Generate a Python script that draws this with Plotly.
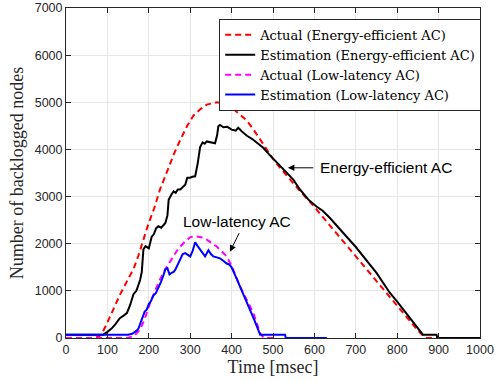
import plotly.graph_objects as go

# ---------------- data ----------------
ee_act_t = [0, 60, 80, 90, 100, 115, 131, 150, 163, 175, 187, 199, 213, 227, 245, 260, 276, 292, 308, 324,
            340, 364, 380, 396, 415, 437, 453, 469, 485, 500, 517, 537, 557, 600, 650, 700, 750, 800, 850, 868, 1000]
ee_act_n = [0, 0, 30, 150, 330, 620, 930, 1250, 1460, 1750, 2100, 2420, 2750, 3150, 3550, 3890, 4200, 4490, 4720, 4850,
            4950, 5000, 4980, 4910, 4780, 4610, 4420, 4210, 3990, 3800, 3610, 3400, 3200, 2780, 2255, 1730, 1205, 680, 160, 0, 0]

ee_est_t = [0, 50, 90, 100, 110, 120, 130, 140, 147, 155, 163, 170, 179, 183, 187, 192, 200, 207, 212, 218, 223, 230,
            240, 245, 248, 255, 260, 265, 270, 276, 282, 288, 293, 300, 305, 312, 318, 324, 330, 335, 340, 350, 360,
            365, 368, 372, 380, 390, 400, 410, 416, 425, 437, 450, 461, 477, 490, 505, 517, 530, 549, 565, 585, 605,
            620, 637, 660, 686, 700, 750, 782, 800, 830, 862, 895, 897, 1000]
ee_est_n = [70, 70, 70, 130, 200, 300, 420, 480, 530, 700, 930, 1000, 1230, 1400, 1880, 1950, 1900, 2150, 2200, 2330,
            2370, 2340, 2440, 2600, 2930, 3050, 3110, 3080, 3150, 3150, 3200, 3250, 3400, 3400, 3420, 3430, 3700, 4050,
            4150, 4120, 4170, 4150, 4130, 4300, 4490, 4520, 4470, 4480, 4420, 4400, 4460, 4380, 4290, 4220, 4140, 4030,
            3900, 3760, 3640, 3520, 3360, 3150, 2940, 2790, 2700, 2550, 2330, 2085, 1930, 1380, 960, 770, 440, 70, 70, 0, 0]

ll_act_t = [0, 100, 150, 165, 179, 190, 203, 215, 227, 240, 250, 260, 270, 284, 300, 316, 330, 340, 352, 364, 376,
            388, 400, 420, 440, 453, 469, 478, 500]
ll_act_n = [0, 0, 0, 50, 180, 400, 740, 1000, 1240, 1460, 1600, 1730, 1880, 2015, 2140, 2155, 2130, 2085, 2020, 1940,
            1840, 1730, 1530, 1100, 750, 520, 100, 0, 0]

ll_est_t = [0, 100, 150, 160, 170, 175, 179, 185, 190, 195, 200, 205, 211, 217, 223, 230, 235, 240, 245, 250, 255,
            260, 264, 270, 276, 282, 288, 294, 300, 306, 312, 318, 324, 330, 336, 344, 350, 356, 362, 372, 380, 388,
            394, 400, 410, 420, 430, 445, 455, 469, 529, 531, 630]
ll_est_n = [70, 70, 70, 90, 150, 200, 300, 420, 560, 600, 720, 780, 900, 950, 1050, 1200, 1320, 1460, 1480, 1350, 1380,
            1400, 1450, 1550, 1650, 1780, 1800, 1760, 1730, 1850, 2030, 1950, 1870, 1800, 1730, 1860, 1780, 1730, 1720,
            1690, 1640, 1580, 1560, 1500, 1300, 1100, 900, 600, 380, 70, 70, 0, 0]

series_names = ["Actual (Energy-efficient AC)", "Estimation (Energy-efficient AC)",
                "Actual (Low-latency AC)", "Estimation (Low-latency AC)"]
x_ticks = [0, 100, 200, 300, 400, 500, 600, 700, 800, 900, 1000]
y_ticks = [0, 1000, 2000, 3000, 4000, 5000, 6000, 7000]

# ---------------- figure ----------------
fig = go.Figure()
fig.add_trace(go.Scatter(x=ee_act_t, y=ee_act_n, mode="lines", name=series_names[0],
                         line=dict(color="#ff0000", width=2, dash="6px,4px")))
fig.add_trace(go.Scatter(x=ee_est_t, y=ee_est_n, mode="lines", name=series_names[1],
                         line=dict(color="#000000", width=2)))
fig.add_trace(go.Scatter(x=ll_act_t, y=ll_act_n, mode="lines", name=series_names[2],
                         line=dict(color="#ff00ff", width=2, dash="6px,4px")))
fig.add_trace(go.Scatter(x=ll_est_t, y=ll_est_n, mode="lines", name=series_names[3],
                         line=dict(color="#0000ff", width=2)))

tick_font = dict(family="Liberation Sans, Arial, sans-serif", size=12.5, color="#262626")
title_font = dict(family="Liberation Serif, Times New Roman, serif", size=18, color="#262626")

fig.update_xaxes(range=[0, 1000], tickvals=x_ticks, ticks="inside", ticklen=5, tickcolor="#262626",
                 showline=True, linecolor="#262626", linewidth=1, mirror="ticks",
                 showgrid=True, gridcolor="#e6e6e6", gridwidth=1, zeroline=False, automargin=False,
                 tickfont=tick_font, title=dict(text="Time [msec]", font=title_font, standoff=4))
fig.update_yaxes(range=[0, 7000], tickvals=y_ticks, ticks="inside", ticklen=5, tickcolor="#262626",
                 showline=True, linecolor="#262626", linewidth=1, mirror="ticks",
                 showgrid=True, gridcolor="#e6e6e6", gridwidth=1, zeroline=False, automargin=False,
                 tickfont=tick_font, title=dict(text="Number of backlogged nodes", font=title_font, standoff=6))

ann_font = dict(family="Liberation Sans, Arial, sans-serif", size=15.5, color="#000000")
# arrows
fig.add_annotation(x=536, y=3610, ax=601, ay=3610, axref="x", ayref="y", xref="x", yref="y",
                   text="", showarrow=True, arrowhead=2, arrowsize=1.3, arrowwidth=1, arrowcolor="#000000")
fig.add_annotation(x=396, y=1830, ax=420, ay=2255, axref="x", ayref="y", xref="x", yref="y",
                   text="", showarrow=True, arrowhead=2, arrowsize=1.3, arrowwidth=1, arrowcolor="#000000")
# labels
fig.add_annotation(x=608, y=3610, xref="x", yref="y", text="Energy-efficient AC", showarrow=False,
                   xanchor="left", yanchor="middle", font=ann_font)
fig.add_annotation(x=414, y=2470, xref="x", yref="y", text="Low-latency AC", showarrow=False,
                   xanchor="center", yanchor="middle", font=ann_font)

fig.update_layout(
    width=495, height=381,
    margin=dict(l=66, r=15, t=8, b=43),
    paper_bgcolor="white", plot_bgcolor="white",
    showlegend=True,
    legend=dict(x=0.37, y=0.967, xanchor="left", yanchor="top",
                bgcolor="white", bordercolor="#262626", borderwidth=1,
                font=dict(family="DejaVu Serif, Liberation Serif, serif", size=13, color="#000000"),
                tracegroupgap=0, itemwidth=30),
)

fig.write_html("out.html")
